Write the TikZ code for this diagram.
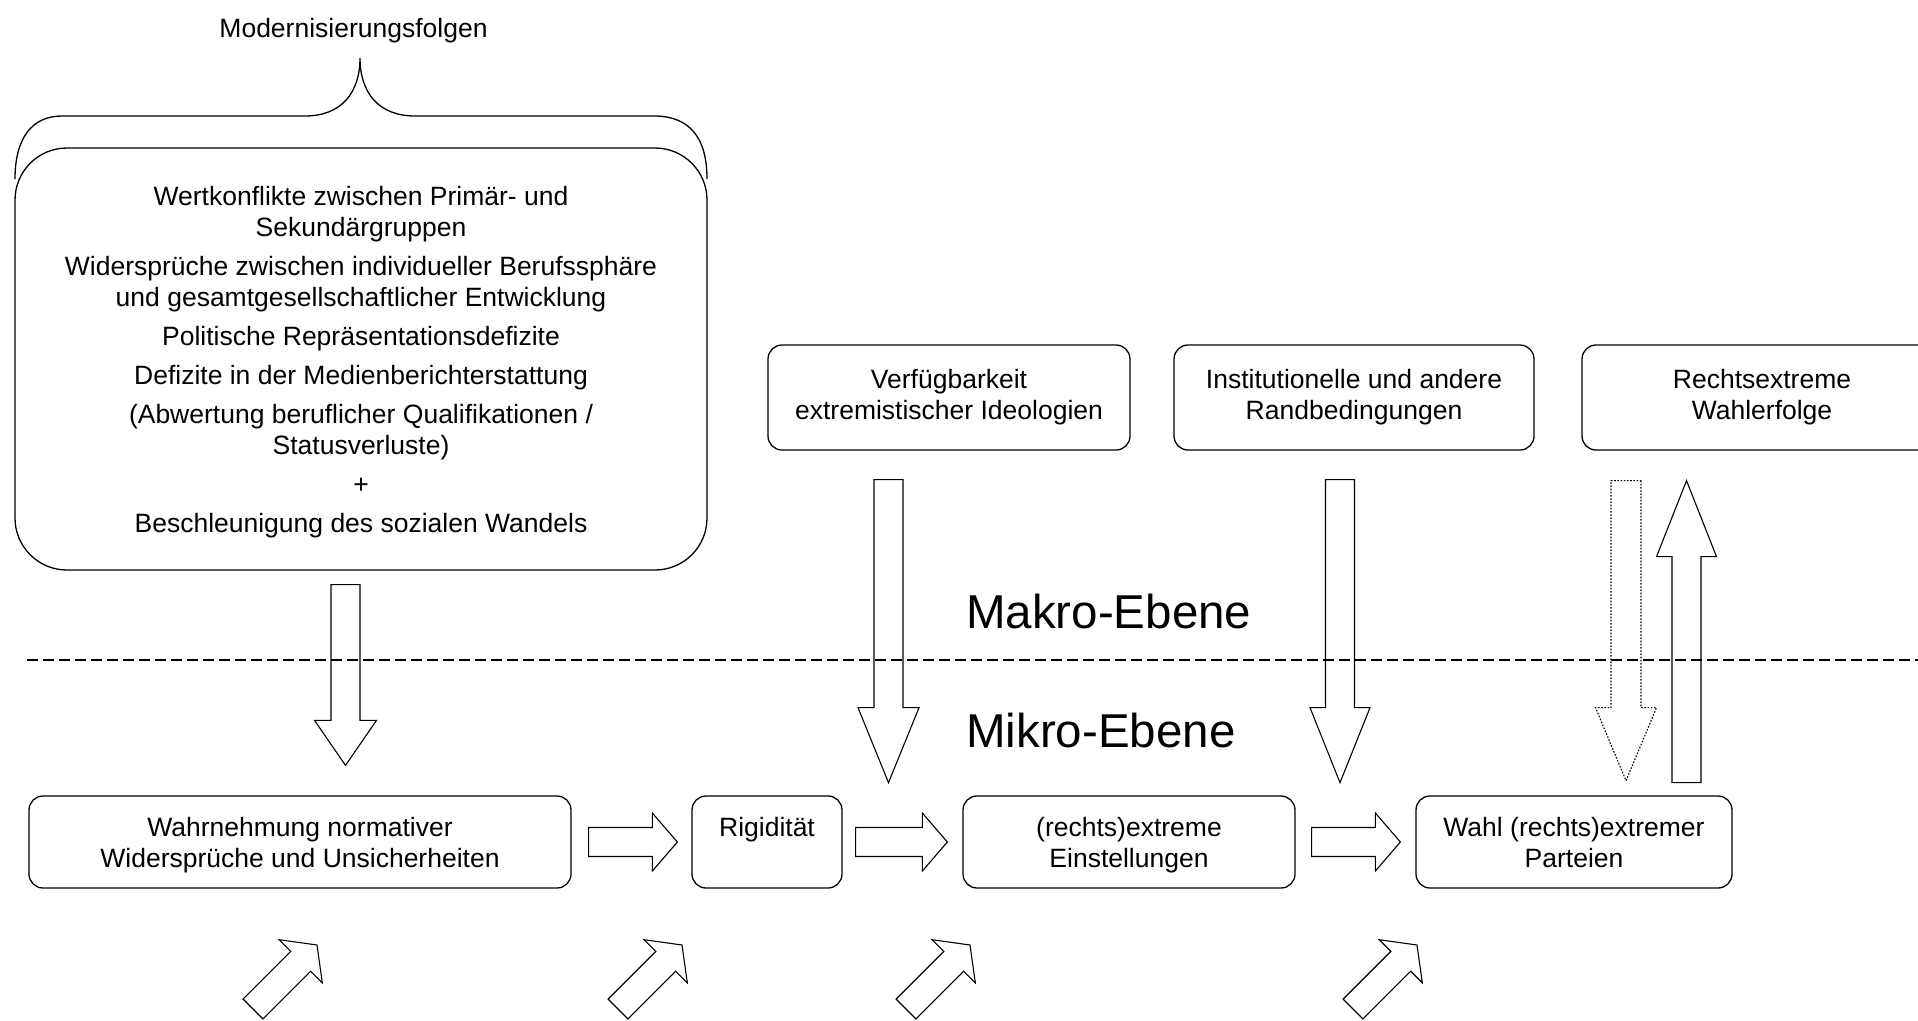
\documentclass[tikz,border=0pt]{standalone}
\usepackage{fontspec}
\setmainfont{Liberation Sans}
\usetikzlibrary{calc}

\tikzset{
  box/.style={draw, line width=1.3pt, rounded corners=14pt, align=center, inner sep=0pt,
    font=\fontsize{26.5}{31}\selectfont},
  lowbox/.style={box, minimum height=92pt, text depth=-8pt},
  fat/.style={draw, line width=1.1pt, line join=miter},
  level/.style={anchor=base west, inner sep=0pt, font=\fontsize{47.5}{56}\selectfont},
}

\newcommand{\fatarrow}[6][]{%
  \coordinate (hb) at ($(#3)!#6!(#2)$);
  \draw[fat,#1] ($(#2)!#4!90:(#3)$) -- ($(hb)!#4!90:(#3)$) -- ($(hb)!#5!90:(#3)$) -- (#3)
    -- ($(hb)!#5!-90:(#3)$) -- ($(hb)!#4!-90:(#3)$) -- ($(#2)!#4!-90:(#3)$) -- cycle;
}

\begin{document}
\begin{tikzpicture}[x=1pt,y=-1pt]
\useasboundingbox (0,0) rectangle (1918,1020);
\clip (0,0) rectangle (1918,1020);

\node[anchor=base, inner sep=0pt, font=\fontsize{26.5}{31}\selectfont] (title) at (353.5,37) {Modernisierungsfolgen};
\draw[line width=1.3pt] (15,179) .. controls (15,138) and (32,116) .. (62,116) -- (305,116)
  .. controls (342,116) and (360,92) .. (360,58) .. controls (360,92) and (378,116) .. (415,116)
  -- (654,116) .. controls (690,116) and (707,138) .. (707,179);

\node[box, rounded corners=52pt, minimum width=692pt, minimum height=422pt, text depth=-4pt] (folgen) at (361,359) {Wertkonflikte zwischen Primär- und\\Sekundärgruppen\\[8pt]
Widersprüche zwischen individueller Berufssphäre\\und gesamtgesellschaftlicher Entwicklung\\[8pt]
Politische Repräsentationsdefizite\\[8pt]
Defizite in der Medienberichterstattung\\[8pt]
(Abwertung beruflicher Qualifikationen /\\Statusverluste)\\[8pt]
+\\[8pt]
Beschleunigung des sozialen Wandels};

\node[box, minimum width=362pt, minimum height=105pt] (ideol) at (949,397.5) {Verfügbarkeit\\extremistischer Ideologien};
\node[box, minimum width=360pt, minimum height=105pt] (inst) at (1354,397.5) {Institutionelle und andere\\Randbedingungen};
\node[box, minimum width=360pt, minimum height=105pt] (erfolg) at (1762,397.5) {Rechtsextreme\\Wahlerfolge};

\node[lowbox, minimum width=542pt] (wahrn) at (300,842) {Wahrnehmung normativer\\Widersprüche und Unsicherheiten};
\node[lowbox, minimum width=150pt] (rigid) at (767,842) {Rigidität\\\mbox{}};
\node[lowbox, minimum width=332pt] (einst) at (1129,842) {(rechts)extreme\\Einstellungen};
\node[lowbox, minimum width=316pt] (wahl) at (1574,842) {Wahl (rechts)extremer\\Parteien};

\draw[line width=1.3pt, dash pattern=on 11pt off 5pt] (27,660) -- (1918,660);
\node[level] (makro) at (966,628) {Makro-Ebene};
\node[level] (mikro) at (966,747) {Mikro-Ebene};

\coordinate (f1) at ($(folgen.south)+(-15.5,14)$);
\coordinate (f2) at ($(wahrn.north)+(45.5,-30)$);
\fatarrow{f1}{f2}{14.5pt}{31pt}{45pt}

\coordinate (i1) at ($(ideol.south)+(-60.5,29)$);
\coordinate (i2) at ($(ideol.south)+(-60.5,332)$);
\fatarrow{i1}{i2}{14.5pt}{30.5pt}{75pt}

\coordinate (r1) at ($(inst.south)+(-14,29)$);
\coordinate (r2) at ($(inst.south)+(-14,332)$);
\fatarrow{r1}{r2}{14.5pt}{30pt}{75pt}

\coordinate (e1) at ($(erfolg.south)+(-136,30)$);
\coordinate (e2) at ($(erfolg.south)+(-136,330)$);
\fatarrow[dash pattern=on 1.6pt off 1.6pt]{e1}{e2}{15pt}{30.5pt}{73pt}

\coordinate (w1) at ($(erfolg.south)+(-75.5,332)$);
\coordinate (w2) at ($(erfolg.south)+(-75.5,30)$);
\fatarrow{w1}{w2}{14.5pt}{30pt}{76pt}

\coordinate (h1) at ($(wahrn.east)+(17,0)$);
\coordinate (h2) at ($(rigid.west)+(-14,0)$);
\fatarrow{h1}{h2}{14.5pt}{29pt}{25pt}
\coordinate (h3) at ($(rigid.east)+(13,0)$);
\coordinate (h4) at ($(einst.west)+(-15,0)$);
\fatarrow{h3}{h4}{14.5pt}{29pt}{25pt}
\coordinate (h5) at ($(einst.east)+(16,0)$);
\coordinate (h6) at ($(wahl.west)+(-15,0)$);
\fatarrow{h5}{h6}{14.5pt}{29pt}{25pt}

\foreach \x [count=\i] in {253,618,906,1353} {
  \coordinate (d\i-a) at (\x,1009);
  \coordinate (d\i-b) at (\x+64,945);
  \fatarrow{d\i-a}{d\i-b}{14pt}{30.5pt}{23pt}
}
\end{tikzpicture}
\end{document}
